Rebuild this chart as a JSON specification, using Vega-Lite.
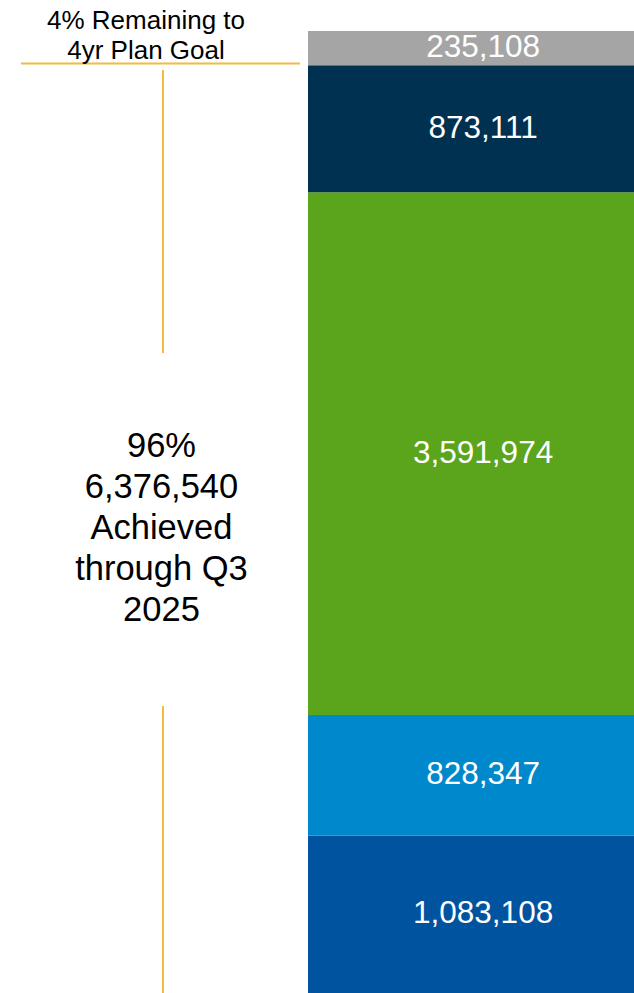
{
  "$schema": "https://vega.github.io/schema/vega-lite/v6.json",
  "width": 634,
  "height": 993,
  "padding": 0,
  "autosize": {"type": "none"},
  "background": "white",
  "config": {"view": {"stroke": null}, "font": "Liberation Sans"},
  "layer": [
    {
      "data": {"values": [
        {"segment": "Segment 1", "order": 1, "value": 1083108},
        {"segment": "Segment 2", "order": 2, "value": 828347},
        {"segment": "Segment 3", "order": 3, "value": 3591974},
        {"segment": "Segment 4", "order": 4, "value": 873111},
        {"segment": "Remaining", "order": 5, "value": 235108}
      ]},
      "transform": [
        {"stack": "value", "groupby": [], "sort": [{"field": "order"}], "as": ["v0", "v1"]},
        {"calculate": "(datum.v0 + datum.v1) / 2", "as": "mid"}
      ],
      "layer": [
        {
          "mark": {"type": "bar"},
          "encoding": {
            "x": {"datum": 48.58, "type": "quantitative", "scale": {"domain": [0, 100], "nice": false, "zero": false}, "axis": null},
            "x2": {"datum": 100},
            "y": {"field": "v0", "type": "quantitative", "scale": {"domain": [0, 6824700], "nice": false, "zero": false}, "axis": null},
            "y2": {"field": "v1"},
            "color": {
              "field": "segment", "type": "nominal", "legend": null,
              "scale": {
                "domain": ["Segment 1", "Segment 2", "Segment 3", "Segment 4", "Remaining"],
                "range": ["#00539f", "#0088cc", "#5aa51b", "#003150", "#a5a5a5"]
              }
            }
          }
        },
        {
          "mark": {"type": "text", "color": "white", "fontSize": 31.5, "baseline": "middle", "align": "center"},
          "encoding": {
            "x": {"datum": 76.2, "type": "quantitative"},
            "y": {"field": "mid", "type": "quantitative"},
            "text": {"field": "value", "type": "quantitative", "format": ","}
          }
        }
      ]
    },
    {
      "data": {"values": [
        {"x": 3.31, "x2": 47.32, "y": 6388000, "y2": 6388000},
        {"x": 25.71, "x2": 25.71, "y": 6343600, "y2": 4398600},
        {"x": 25.71, "x2": 25.71, "y": 1972500, "y2": 0}
      ]},
      "mark": {"type": "rule", "color": "#f2bc3f", "strokeWidth": 2},
      "encoding": {
        "x": {"field": "x", "type": "quantitative"},
        "x2": {"field": "x2"},
        "y": {"field": "y", "type": "quantitative"},
        "y2": {"field": "y2"}
      }
    },
    {
      "data": {"values": [
        {"label": ["4% Remaining to", "4yr Plan Goal"], "x": 23.03, "y": 6680000}
      ]},
      "mark": {"type": "text", "fontSize": 26, "lineHeight": 30, "baseline": "middle", "align": "center", "color": "black"},
      "encoding": {
        "x": {"field": "x", "type": "quantitative"},
        "y": {"field": "y", "type": "quantitative"},
        "text": {"field": "label"}
      }
    },
    {
      "data": {"values": [
        {"label": ["96%", "6,376,540", "Achieved", "through Q3", "2025"], "x": 25.47, "y": 3752500}
      ]},
      "mark": {"type": "text", "fontSize": 34.5, "lineHeight": 41, "baseline": "middle", "align": "center", "color": "black"},
      "encoding": {
        "x": {"field": "x", "type": "quantitative"},
        "y": {"field": "y", "type": "quantitative"},
        "text": {"field": "label"}
      }
    }
  ]
}
